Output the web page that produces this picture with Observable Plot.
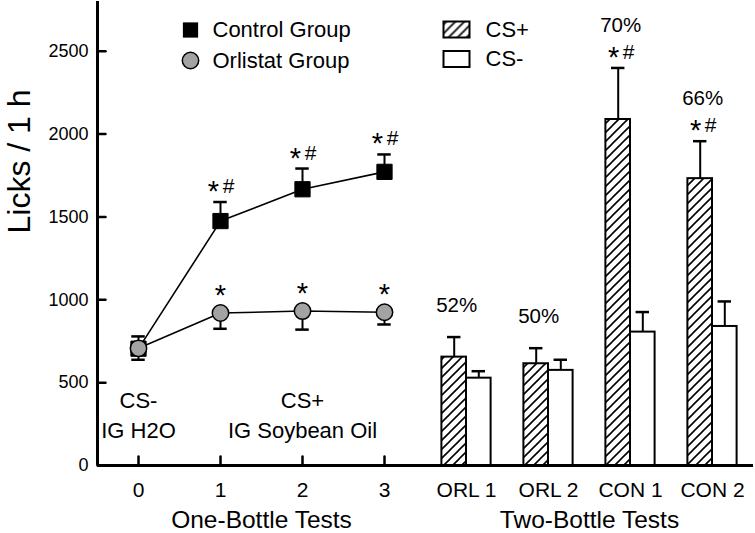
<!DOCTYPE html>
<html><head><meta charset="utf-8">
<script src="https://cdn.jsdelivr.net/npm/d3@7"></script>
<script src="https://cdn.jsdelivr.net/npm/@observablehq/plot@0.6"></script>
<style>body{margin:0;background:#fff} #chart svg{display:block}</style>
</head><body><div id="chart"></div>
<script>
// ---- One-bottle tests (line chart) ----
const oneBottleTests = [0, 1, 2, 3];
const controlMean = [705, 1475, 1667, 1772];
const controlSem = [74, 115, 125, 105];
const orlistatMean = [707, 920, 932, 925];
const orlistatSem = [69, 95, 112, 74];
const controlMarks = ["", "*#", "*#", "*#"];
const orlistatMarks = ["", "*", "*", "*"];

// ---- Two-bottle tests (bar chart) ----
const twoBottleTests = ["ORL 1", "ORL 2", "CON 1", "CON 2"];
const csPlusMean = [654, 614, 2088, 1731];
const csPlusSem = [121, 94, 311, 226];
const csMinusMean = [527, 574, 805, 839];
const csMinusSem = [42, 64, 121, 151];
const preference = ["52%", "50%", "70%", "66%"];
const csPlusMarks = ["", "", "*#", "*#"];

// ---- Axis & annotation text ----
const xTickLabels = ["0", "1", "2", "3", "ORL 1", "ORL 2", "CON 1", "CON 2"];
const yTicks = [0, 500, 1000, 1500, 2000, 2500];
const phaseLabels = ["CS-\nIG H2O", "CS+\nIG Soybean Oil"];
const phaseAt = [0, 2];
const sectionTitles = ["One-Bottle Tests", "Two-Bottle Tests"];
const sectionAt = [1.5, 5.5];
const yTitle = "Licks / 1 h";
const legendGroups = ["Control Group", "Orlistat Group"];
const legendStimuli = ["CS+", "CS-"];

// positions of two-bottle groups on the shared x scale
const barPos = twoBottleTests.map((d, i) => oneBottleTests.length + i);
const barW = 0.3, capHalf = 0.082;

const FONT = "Liberation Sans, Arial, Helvetica, sans-serif";
const tickShape = {draw(ctx, l) { ctx.moveTo(0, 0); ctx.lineTo(0, -l); }};
const boxSymbol = {draw(ctx) { ctx.rect(-13, -8, 26, 16); }};

const lineData = oneBottleTests.map((t, i) => ({t, c: controlMean[i], cs: controlSem[i], o: orlistatMean[i], os: orlistatSem[i], cm: controlMarks[i], om: orlistatMarks[i]}));
const barData = twoBottleTests.map((name, i) => ({name, p: barPos[i], plus: csPlusMean[i], plusSem: csPlusSem[i], minus: csMinusMean[i], minusSem: csMinusSem[i], pct: preference[i], mk: csPlusMarks[i]}));

const chart = Plot.plot({
  width: 755, height: 533,
  marginLeft: 97, marginRight: 2, marginTop: 1, marginBottom: 68,
  style: {fontFamily: FONT, fontSize: "18px", color: "black", background: "white"},
  x: {type: "linear", domain: [-0.5, 7.5], axis: null},
  y: {domain: [0, 2800], axis: null},
  marks: [
    // axes
    Plot.axisY(yTicks, {tickSize: 0, tickPadding: 9, fontSize: 18, label: null, tickFormat: d => String(d)}),
    Plot.axisX(d3.range(xTickLabels.length), {tickSize: 0, tickPadding: 17, fontSize: 21, label: null, tickFormat: i => xTickLabels[i]}),
    Plot.vector(yTicks, {x: -0.5, y: d => d, length: 8, rotate: 90, anchor: "start", shape: tickShape, strokeWidth: 2.5, stroke: "black"}),
    Plot.vector(oneBottleTests, {x: d => d, y: 0, length: 9, rotate: 0, anchor: "start", shape: tickShape, strokeWidth: 2.5, stroke: "black"}),

    // bars
    Plot.rect(barData, {x1: d => d.p - barW, x2: d => d.p, y1: 0, y2: d => d.plus, fill: "url(#hatch)", stroke: "black", strokeWidth: 2}),
    Plot.rect(barData, {x1: d => d.p, x2: d => d.p + barW, y1: 0, y2: d => d.minus, fill: "white", stroke: "black", strokeWidth: 2}),
    Plot.ruleX(barData, {x: d => d.p - barW / 2, y1: d => d.plus, y2: d => d.plus + d.plusSem, strokeWidth: 2}),
    Plot.ruleY(barData, {y: d => d.plus + d.plusSem, x1: d => d.p - barW / 2 - capHalf, x2: d => d.p - barW / 2 + capHalf, strokeWidth: 2.5}),
    Plot.ruleX(barData, {x: d => d.p + barW / 2, y1: d => d.minus, y2: d => d.minus + d.minusSem, strokeWidth: 2}),
    Plot.ruleY(barData, {y: d => d.minus + d.minusSem, x1: d => d.p + barW / 2 - capHalf, x2: d => d.p + barW / 2 + capHalf, strokeWidth: 2.5}),

    // error bars (control up, orlistat down)
    Plot.ruleX(lineData, {x: "t", y1: "c", y2: d => d.c + d.cs, strokeWidth: 2}),
    Plot.ruleY(lineData, {y: d => d.c + d.cs, x1: d => d.t - capHalf, x2: d => d.t + capHalf, strokeWidth: 2.5}),
    Plot.ruleX(lineData, {x: "t", y1: "o", y2: d => d.o - d.os, strokeWidth: 2}),
    Plot.ruleY(lineData, {y: d => d.o - d.os, x1: d => d.t - capHalf, x2: d => d.t + capHalf, strokeWidth: 2.5}),

    // lines and points
    Plot.line(lineData, {x: "t", y: "c", stroke: "black", strokeWidth: 1.6}),
    Plot.line(lineData, {x: "t", y: "o", stroke: "black", strokeWidth: 1.6}),
    Plot.dot(lineData, {x: "t", y: "c", symbol: "square", r: 8.6, fill: "black", stroke: "black", strokeWidth: 1}),
    Plot.dot(lineData, {x: "t", y: "o", symbol: "circle", r: 8.2, fill: "#a3a3a3", stroke: "black", strokeWidth: 1.5}),

    // significance marks: control
    Plot.text(lineData.filter(d => d.cm.includes("*")), {x: "t", y: d => d.c + d.cs, text: () => "*", dx: -7, dy: -1, lineAnchor: "bottom", fontSize: 29}),
    Plot.text(lineData.filter(d => d.cm.includes("#")), {x: "t", y: d => d.c + d.cs, text: () => "#", dx: 8, dy: -9, lineAnchor: "bottom", fontSize: 21}),
    // orlistat
    Plot.text(lineData.filter(d => d.om.includes("*")), {x: "t", y: "o", text: () => "*", dy: -8, lineAnchor: "bottom", fontSize: 29}),
    // bars
    Plot.text(barData.filter(d => d.mk.includes("*")), {x: d => d.p - 0.12, y: d => d.plus + d.plusSem, text: () => "*", dx: -7, dy: -1, lineAnchor: "bottom", fontSize: 29}),
    Plot.text(barData.filter(d => d.mk.includes("#")), {x: d => d.p - 0.12, y: d => d.plus + d.plusSem, text: () => "#", dx: 8, dy: -9, lineAnchor: "bottom", fontSize: 21}),
    Plot.text(barData.filter(d => d.mk), {x: d => d.p - 0.12, y: d => d.plus + d.plusSem, text: "pct", dy: -36, lineAnchor: "bottom", fontSize: 20.5}),
    Plot.text(barData.filter(d => !d.mk), {x: d => d.p - 0.12, y: d => d.plus + d.plusSem, text: "pct", dy: -25, lineAnchor: "bottom", fontSize: 20.5}),

    // phase labels
    Plot.text(phaseLabels, {x: (d, i) => phaseAt[i], frameAnchor: "bottom", text: d => d, dy: -28, lineAnchor: "bottom", lineHeight: 1.32, fontSize: 22}),

    // section titles & y title
    Plot.text(sectionTitles, {x: (d, i) => sectionAt[i], frameAnchor: "bottom", text: d => d, dy: 55, lineAnchor: "middle", fontSize: 24.5}),
    Plot.text([yTitle], {frameAnchor: "left", text: d => d, dx: -78, rotate: -90, fontSize: 32}),

    // frame axes lines
    Plot.ruleX([-0.5], {strokeWidth: 3}),
    Plot.ruleY([0], {strokeWidth: 3}),

    // legend
    Plot.dot(legendGroups.slice(0, 1), {frameAnchor: "top-left", dx: 93, dy: 28.5, symbol: "square", r: 8.6, fill: "black"}),
    Plot.dot(legendGroups.slice(1, 2), {frameAnchor: "top-left", dx: 93, dy: 59, symbol: "circle", r: 8.2, fill: "#a3a3a3", stroke: "black", strokeWidth: 1.5}),
    Plot.text(legendGroups.slice(0, 1), {frameAnchor: "top-left", text: d => d, dx: 115, dy: 28, textAnchor: "start", lineAnchor: "middle", fontSize: 22}),
    Plot.text(legendGroups.slice(1, 2), {frameAnchor: "top-left", text: d => d, dx: 115, dy: 59, textAnchor: "start", lineAnchor: "middle", fontSize: 22}),
    Plot.dot(legendStimuli.slice(0, 1), {frameAnchor: "top-left", dx: 359, dy: 28, symbol: boxSymbol, fill: "url(#hatch)", stroke: "black", strokeWidth: 2}),
    Plot.dot(legendStimuli.slice(1, 2), {frameAnchor: "top-left", dx: 359, dy: 57.5, symbol: boxSymbol, fill: "white", stroke: "black", strokeWidth: 2}),
    Plot.text(legendStimuli.slice(0, 1), {frameAnchor: "top-left", text: d => d, dx: 388, dy: 28, textAnchor: "start", lineAnchor: "middle", fontSize: 22}),
    Plot.text(legendStimuli.slice(1, 2), {frameAnchor: "top-left", text: d => d, dx: 388, dy: 57.5, textAnchor: "start", lineAnchor: "middle", fontSize: 22})
  ]
});

const svgEl = chart.tagName.toLowerCase() === "svg" ? chart : chart.querySelector("svg");
const defs = document.createElementNS("http://www.w3.org/2000/svg", "defs");
defs.innerHTML = '<pattern id="hatch" patternUnits="userSpaceOnUse" width="9" height="9"><rect width="9" height="9" fill="white"/><path d="M-2.25,2.25 L2.25,-2.25 M0,9 L9,0 M6.75,11.25 L11.25,6.75" stroke="black" stroke-width="1.6"/></pattern>';
svgEl.insertBefore(defs, svgEl.firstChild);
document.getElementById("chart").appendChild(chart);
</script>
</body></html>
